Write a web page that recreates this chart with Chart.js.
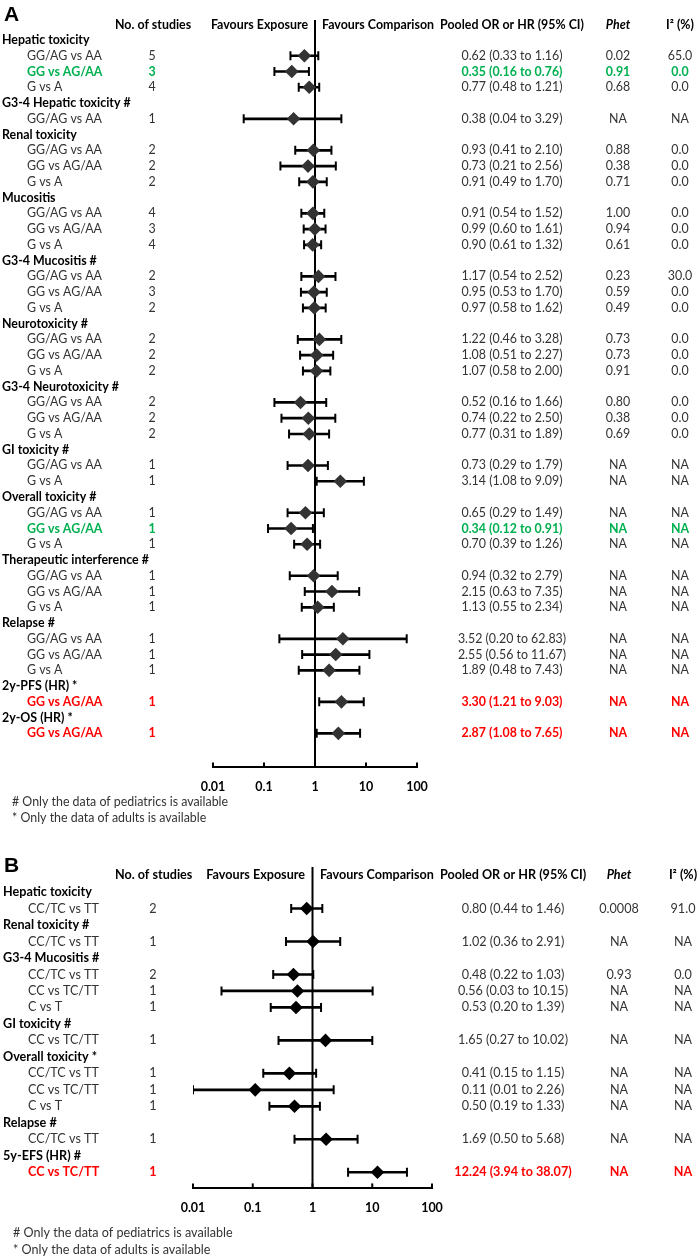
<!DOCTYPE html>
<html>
<head>
<meta charset="utf-8">
<title>Forest plots</title>
<script src="https://cdn.jsdelivr.net/npm/chart.js@4.4.1/dist/chart.umd.min.js"></script>
<style>
  body { margin: 0; background: #fff; }
  canvas { display: block; }
</style>
</head>
<body>
<canvas id="forestA" width="699" height="840"></canvas>
<canvas id="forestB" width="699" height="419"></canvas>
<script>
// ---- Panel A ----
const labelsA = [
  'Hepatic toxicity', 'GG/AG vs AA', 'GG vs AG/AA', 'G vs A',
  'G3-4 Hepatic toxicity #', 'GG/AG vs AA',
  'Renal toxicity', 'GG/AG vs AA', 'GG vs AG/AA', 'G vs A',
  'Mucositis', 'GG/AG vs AA', 'GG vs AG/AA', 'G vs A',
  'G3-4 Mucositis #', 'GG/AG vs AA', 'GG vs AG/AA', 'G vs A',
  'Neurotoxicity #', 'GG/AG vs AA', 'GG vs AG/AA', 'G vs A',
  'G3-4 Neurotoxicity #', 'GG/AG vs AA', 'GG vs AG/AA', 'G vs A',
  'GI toxicity #', 'GG/AG vs AA', 'G vs A',
  'Overall toxicity #', 'GG/AG vs AA', 'GG vs AG/AA', 'G vs A',
  'Therapeutic interference #', 'GG/AG vs AA', 'GG vs AG/AA', 'G vs A',
  'Relapse #', 'GG/AG vs AA', 'GG vs AG/AA', 'G vs A',
  '2y-PFS (HR) *', 'GG vs AG/AA',
  '2y-OS (HR) *', 'GG vs AG/AA'
];
const studiesA = [null, 5, 3, 4, null, 1, null, 2, 2, 2, null, 4, 3, 4, null, 2, 3, 2, null, 2, 2, 2,
  null, 2, 2, 2, null, 1, 1, null, 1, 1, 1, null, 1, 1, 1, null, 1, 1, 1, null, 1, null, 1];
const orA = [null, 0.62, 0.35, 0.77, null, 0.38, null, 0.93, 0.73, 0.91, null, 0.91, 0.99, 0.90,
  null, 1.17, 0.95, 0.97, null, 1.22, 1.08, 1.07, null, 0.52, 0.74, 0.77, null, 0.73, 3.14,
  null, 0.65, 0.34, 0.70, null, 0.94, 2.15, 1.13, null, 3.52, 2.55, 1.89, null, 3.30, null, 2.87];
const lowerA = [null, 0.33, 0.16, 0.48, null, 0.04, null, 0.41, 0.21, 0.49, null, 0.54, 0.60, 0.61,
  null, 0.54, 0.53, 0.58, null, 0.46, 0.51, 0.58, null, 0.16, 0.22, 0.31, null, 0.29, 1.08,
  null, 0.29, 0.12, 0.39, null, 0.32, 0.63, 0.55, null, 0.20, 0.56, 0.48, null, 1.21, null, 1.08];
const upperA = [null, 1.16, 0.76, 1.21, null, 3.29, null, 2.10, 2.56, 1.70, null, 1.52, 1.61, 1.32,
  null, 2.52, 1.70, 1.62, null, 3.28, 2.27, 2.00, null, 1.66, 2.50, 1.89, null, 1.79, 9.09,
  null, 1.49, 0.91, 1.26, null, 2.79, 7.35, 2.34, null, 62.83, 11.67, 7.43, null, 9.03, null, 7.65];
const phetA = ['', '0.02', '0.91', '0.68', '', 'NA', '', '0.88', '0.38', '0.71', '', '1.00', '0.94', '0.61',
  '', '0.23', '0.59', '0.49', '', '0.73', '0.73', '0.91', '', '0.80', '0.38', '0.69', '', 'NA', 'NA',
  '', 'NA', 'NA', 'NA', '', 'NA', 'NA', 'NA', '', 'NA', 'NA', 'NA', '', 'NA', '', 'NA'];
const i2A = ['', '65.0', '0.0', '0.0', '', 'NA', '', '0.0', '0.0', '0.0', '', '0.0', '0.0', '0.0',
  '', '30.0', '0.0', '0.0', '', '0.0', '0.0', '0.0', '', '0.0', '0.0', '0.0', '', 'NA', 'NA',
  '', 'NA', 'NA', 'NA', '', 'NA', 'NA', 'NA', '', 'NA', 'NA', 'NA', '', 'NA', '', 'NA'];
const greenRowsA = [2, 31];
const redRowsA = [42, 44];

// ---- Panel B ----
const labelsB = [
  'Hepatic toxicity', 'CC/TC vs TT',
  'Renal toxicity #', 'CC/TC vs TT',
  'G3-4 Mucositis #', 'CC/TC vs TT', 'CC vs TC/TT', 'C vs T',
  'GI toxicity #', 'CC vs TC/TT',
  'Overall toxicity *', 'CC/TC vs TT', 'CC vs TC/TT', 'C vs T',
  'Relapse #', 'CC/TC vs TT',
  '5y-EFS (HR) #', 'CC vs TC/TT'
];
const studiesB = [null, 2, null, 1, null, 2, 1, 1, null, 1, null, 1, 1, 1, null, 1, null, 1];
const orB = [null, 0.80, null, 1.02, null, 0.48, 0.56, 0.53, null, 1.65, null, 0.41, 0.11, 0.50, null, 1.69, null, 12.24];
const lowerB = [null, 0.44, null, 0.36, null, 0.22, 0.03, 0.20, null, 0.27, null, 0.15, 0.01, 0.19, null, 0.50, null, 3.94];
const upperB = [null, 1.46, null, 2.91, null, 1.03, 10.15, 1.39, null, 10.02, null, 1.15, 2.26, 1.33, null, 5.68, null, 38.07];
const phetB = ['', '0.0008', '', 'NA', '', '0.93', 'NA', 'NA', '', 'NA', '', 'NA', 'NA', 'NA', '', 'NA', '', 'NA'];
const i2B = ['', '91.0', '', 'NA', '', '0.0', 'NA', 'NA', '', 'NA', '', 'NA', 'NA', 'NA', '', 'NA', '', 'NA'];
const greenRowsB = [];
const redRowsB = [17];

// shared log axis
const tickValues = [0.01, 0.1, 1, 10, 100];
const tickLabels = ['0.01', '0.1', '1', '10', '100'];

const FONT = '"Lato", "Open Sans", sans-serif';
const GREEN = '#00B050';
const RED = '#FF0000';

const fmt = v => v.toFixed(2);

// draws the table columns, header, inward ticks and footnotes
const tablePlugin = {
  id: 'forestTable',
  afterDraw(chart, args, opts) {
    const { ctx, chartArea, scales: { x, y } } = chart;
    const d = opts.rows;
    const L = opts.layout;
    ctx.save();

    // inward tick marks on the axis
    ctx.strokeStyle = '#000';
    ctx.lineWidth = 2;
    tickValues.forEach(v => {
      const px = x.getPixelForValue(v);
      ctx.beginPath();
      ctx.moveTo(px, chartArea.bottom);
      ctx.lineTo(px, chartArea.bottom - 5);
      ctx.stroke();
    });

    // panel letter
    ctx.fillStyle = '#000';
    ctx.textAlign = 'left';
    ctx.textBaseline = 'alphabetic';
    ctx.font = 'bold 21px "Liberation Sans", Arial, sans-serif';
    ctx.fillText(L.letter, L.letterX, L.letterY);

    // header row
    const hy = y.getPixelForValue(L.headerRow);
    ctx.textBaseline = 'middle';
    ctx.font = `bold ${L.size}px ${FONT}`;
    ctx.fillText('No. of studies', L.noStudiesX, hy);
    ctx.fillText('Favours Comparison', L.favCompLeft, hy);
    ctx.textAlign = 'right';
    ctx.fillText('Favours Exposure', L.favExpRight, hy);
    ctx.textAlign = 'center';
    ctx.fillText('Pooled OR or HR (95% CI)', L.ciX, hy);
    ctx.fillText('I\u00B2 (%)', L.i2X, hy);
    ctx.font = `italic bold ${L.size}px ${FONT}`;
    ctx.fillText('Phet', L.phetX, hy);

    // rows
    d.labels.forEach((lab, i) => {
      const py = y.getPixelForValue(i);
      if (d.studies[i] === null) {
        ctx.textAlign = 'left';
        ctx.fillStyle = '#000';
        ctx.font = `bold ${L.size}px ${FONT}`;
        ctx.fillText(lab, L.groupX, py);
        return;
      }
      let color = '#333';
      let weight = '';
      if (d.green.includes(i)) { color = GREEN; weight = 'bold '; }
      if (d.red.includes(i)) { color = RED; weight = 'bold '; }
      ctx.fillStyle = color;
      ctx.font = `${weight}${L.size}px ${FONT}`;
      ctx.textAlign = 'left';
      ctx.fillText(lab, L.subX, py);
      ctx.textAlign = 'center';
      ctx.fillText(String(d.studies[i]), L.studiesX, py);
      ctx.fillText(`${fmt(d.or[i])} (${fmt(d.lower[i])} to ${fmt(d.upper[i])})`, L.ciX, py);
      ctx.fillText(d.phet[i], L.phetX, py);
      ctx.fillText(d.i2[i], L.i2X, py);
    });

    // footnotes
    ctx.textAlign = 'left';
    ctx.fillStyle = '#333';
    ctx.font = `${L.size}px ${FONT}`;
    ctx.fillText('# Only the data of pediatrics is available', L.footX, L.foot1Y);
    ctx.fillText('* Only the data of adults is available', L.footX, L.foot2Y);
    ctx.restore();
  }
};

function makeForest(id, rows, yMin, yMax, padding, layout, markColor) {
  const idx = rows.or.map((v, i) => i).filter(i => rows.or[i] !== null);
  return new Chart(document.getElementById(id), {
    type: 'scatter',
    data: {
      datasets: [
        {
          label: 'Pooled estimate',
          data: idx.map(i => ({ x: rows.or[i], y: i })),
          pointStyle: 'rectRot',
          pointRadius: 6.8,
          pointBackgroundColor: markColor,
          pointBorderWidth: 0,
          order: 0
        },
        {
          label: 'CI caps',
          data: idx.flatMap(i => [{ x: rows.lower[i], y: i }, { x: rows.upper[i], y: i }]),
          pointStyle: 'line',
          pointRotation: 90,
          pointRadius: 4.5,
          pointBorderColor: '#000',
          pointBorderWidth: 2,
          order: 1
        },
        {
          type: 'bar',
          indexAxis: 'y',
          label: '95% CI',
          data: idx.map(i => ({ y: i, x: [rows.lower[i], rows.upper[i]] })),
          barThickness: 2,
          backgroundColor: '#000',
          borderWidth: 0,
          order: 2
        },
        {
          label: 'No effect',
          data: [{ x: 1, y: yMin }, { x: 1, y: yMax }],
          showLine: true,
          pointRadius: 0,
          borderColor: '#000',
          borderWidth: 2,
          order: 3
        }
      ]
    },
    options: {
      responsive: false,
      animation: false,
      events: [],
      layout: { padding },
      plugins: {
        legend: { display: false },
        tooltip: { enabled: false },
        forestTable: { rows, layout }
      },
      scales: {
        x: {
          type: 'logarithmic',
          min: 0.01,
          max: 100,
          afterBuildTicks: scale => { scale.ticks = tickValues.map(v => ({ value: v })); },
          ticks: {
            autoSkip: false,
            maxRotation: 0,
            padding: 12,
            color: '#000',
            font: { family: FONT, size: 12.5, weight: 'bold' },
            callback: (val, i) => tickLabels[i]
          },
          grid: { display: false, drawTicks: false },
          border: { display: true, color: '#000', width: 2 }
        },
        y: {
          type: 'linear',
          reverse: true,
          min: yMin,
          max: yMax,
          offset: false,
          display: false
        }
      }
    },
    plugins: [tablePlugin]
  });
}

makeForest('forestA',
  { labels: labelsA, studies: studiesA, or: orA, lower: lowerA, upper: upperA, phet: phetA, i2: i2A, green: greenRowsA, red: redRowsA },
  -1.27, 46.16,
  { left: 213, right: 282, top: 20, bottom: 33.6 },
  { letter: 'A', letterX: 4, letterY: 21, headerRow: -0.95, size: 12.4, groupX: 2, subX: 27, studiesX: 152,
    noStudiesX: 115, favExpRight: 308, favCompLeft: 322, ciX: 512, phetX: 618, i2X: 680,
    footX: 12, foot1Y: 802, foot2Y: 818 },
  '#333');

makeForest('forestB',
  { labels: labelsB, studies: studiesB, or: orB, lower: lowerB, upper: upperB, phet: phetB, i2: i2B, green: greenRowsB, red: redRowsB },
  -1.52, 17.98,
  { left: 193, right: 267, top: 27, bottom: 31.6 },
  { letter: 'B', letterX: 4, letterY: 32, headerRow: -1.04, size: 12.6, groupX: 3, subX: 28, studiesX: 153,
    noStudiesX: 115, favExpRight: 305, favCompLeft: 320, ciX: 513, phetX: 619, i2X: 683,
    footX: 13, foot1Y: 393, foot2Y: 410 },
  '#000');
</script>
</body>
</html>
